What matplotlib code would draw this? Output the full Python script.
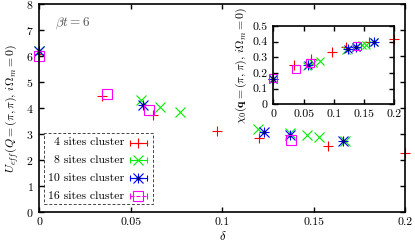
"""
U_eff(Q) and chi0(q) vs doping for several cluster sizes (beta t = 6)
"""
import matplotlib
matplotlib.use('Agg')
import matplotlib.pyplot as plt
import matplotlib.patches as mpatches

plt.rcParams['font.family'] = ['cmr10', 'DejaVu Serif']
plt.rcParams['mathtext.fontset'] = 'cm'
plt.rcParams['axes.formatter.use_mathtext'] = True

# ── Datos ──
labels = ['4 sites cluster', '8 sites cluster', '10 sites cluster', '16 sites cluster']

delta_4 = [0.0, 0.0344, 0.0623, 0.0972, 0.120, 0.1575, 0.2]
ueff_4 = [6.1, 4.48, 3.75, 3.13, 2.85, 2.55, 2.29]
chi_4 = [0.16, 0.253, 0.288, 0.334, 0.368, 0.40, 0.416]

delta_8 = [0.0, 0.0555, 0.066, 0.077, 0.1195, 0.137, 0.146, 0.1527, 0.167]
ueff_8 = [6.2, 4.32, 4.04, 3.85, 3.19, 3.04, 2.95, 2.88, 2.75]
chi_8 = [0.16, 0.245, 0.262, 0.274, 0.345, 0.365, 0.375, 0.38, 0.40]

delta_10 = [0.0, 0.0568, 0.1229, 0.137, 0.166]
ueff_10 = [6.22, 4.14, 3.09, 2.97, 2.75]
chi_10 = [0.16, 0.248, 0.35, 0.362, 0.40]

delta_16 = [0.0, 0.0368, 0.0598, 0.1377]
ueff_16 = [6.0, 4.54, 3.94, 2.78]
chi_16 = [0.165, 0.223, 0.264, 0.374]

RED, GREEN, BLUE, PINK = '#ff0000', '#00ee00', '#0000ff', '#ff00ff'


def draw(ax, ms, d4, y4, d8, y8, d10, y10, d16, y16):
    kw = dict(ls='none', mew=0.8, clip_on=False)
    ax.plot(d4, y4, marker='+', ms=ms * 1.1, color=RED, **kw)
    ax.plot(d8, y8, marker='x', ms=ms, color=GREEN, **kw)
    ax.plot(d10, y10, marker='+', ms=ms * 1.1, color=BLUE, **kw)
    ax.plot(d10, y10, marker='x', ms=ms, color=BLUE, **kw)
    ax.plot(d10, y10, marker='o', ms=2, color='#000080', **kw)
    ax.plot(d16, y16, marker='s', ms=ms, mfc='none', mec=PINK, **kw)


def style(ax):
    for s in ax.spines.values():
        s.set_linewidth(1.2)
    ax.tick_params(direction='in', top=True, right=True, length=3.5,
                   width=1.0, labelsize=8.5, pad=4)


# ── Gráfico ──
fig = plt.figure(figsize=(4.15, 2.47), dpi=100)
ax = fig.add_axes([0.0947, 0.1417, 0.8824, 0.8401])

draw(ax, 7, delta_4, ueff_4, delta_8, ueff_8, delta_10, ueff_10, delta_16, ueff_16)
ax.set_xlim(0, 0.2)
ax.set_ylim(0, 8)
ax.set_xticks([0, 0.05, 0.1, 0.15, 0.2])
ax.set_xticklabels(['0', '0.05', '0.1', '0.15', '0.2'])
ax.set_yticks(range(9))
style(ax)
ax.set_xlabel(r'$\delta$', fontsize=9, labelpad=2)
ax.set_ylabel(r'$U_{eff}(Q=(\pi,\pi),\,i\Omega_m=0)$', fontsize=8.5, labelpad=4)
ax.text(0.0085, 7.27, r'$\beta t=6$', fontsize=9.5, color='#555555',
        va='center', ha='left')

# ── Leyenda manual (estilo gnuplot) ──
tr = ax.transAxes
ax.add_patch(mpatches.Rectangle((0.0137, 0.037), 0.297, 0.342, transform=tr,
                                fill=False, ls=(0, (3, 2)), lw=0.7,
                                ec='#444444', clip_on=False))
rows = [0.334, 0.249, 0.162, 0.077]
for lab, yy, c in zip(labels, rows, [RED, GREEN, BLUE, PINK]):
    ax.text(0.232, yy, lab, transform=tr, ha='right', va='center', fontsize=8.5)
    ls = '--' if c == PINK else '-'
    ax.plot([0.248, 0.293], [yy, yy], transform=tr, color=c, lw=0.8,
            ls=ls, clip_on=False)
    ax.plot([0.248, 0.293], [yy, yy], transform=tr, ls='none', marker='|',
            ms=5, mew=0.8, color=c, clip_on=False)
    if c == RED:
        ax.plot(0.2705, yy, transform=tr, marker='+', ms=7.5, mew=0.8, color=c)
    elif c == GREEN:
        ax.plot(0.2705, yy, transform=tr, marker='x', ms=7, mew=0.8, color=c)
    elif c == BLUE:
        ax.plot(0.2705, yy, transform=tr, marker='+', ms=7.5, mew=0.8, color=c)
        ax.plot(0.2705, yy, transform=tr, marker='x', ms=7, mew=0.8, color=c)
        ax.plot(0.2705, yy, transform=tr, marker='o', ms=2, color='#000080')
    else:
        ax.plot(0.2705, yy, transform=tr, marker='s', ms=7, mew=0.8,
                mfc='none', mec=c)

# ── Inset ──
ins = fig.add_axes([0.659, 0.578, 0.2911, 0.3174])
draw(ins, 6, delta_4, chi_4, delta_8, chi_8, delta_10, chi_10, delta_16, chi_16)
ins.set_xlim(0, 0.2)
ins.set_ylim(0, 0.5)
ins.set_xticks([0, 0.05, 0.1, 0.15, 0.2])
ins.set_xticklabels(['0', '0.05', '0.1', '0.15', '0.2'])
ins.set_yticks([0, 0.1, 0.2, 0.3, 0.4, 0.5])
ins.set_yticklabels(['0', '0.1', '0.2', '0.3', '0.4', '0.5'])
style(ins)
ins.set_ylabel(r'$\chi_0(\mathbf{q}=(\pi,\pi),\,i\Omega_m=0)$', fontsize=8.5,
               labelpad=3)

fig.savefig('out.png', dpi=100)
